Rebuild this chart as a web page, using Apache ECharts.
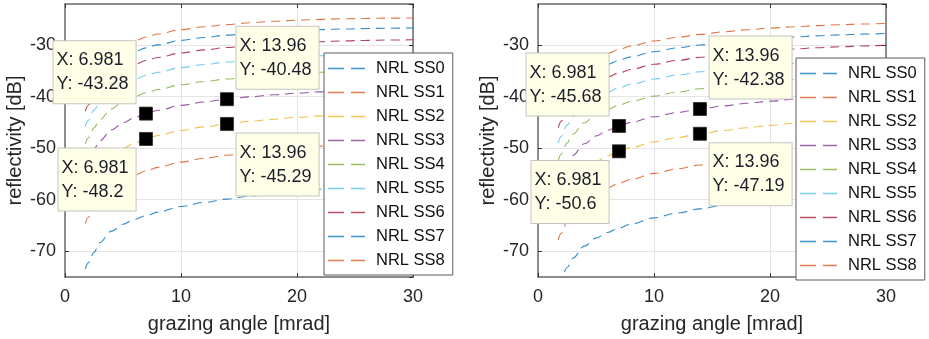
<!DOCTYPE html>
<html>
<head>
<meta charset="utf-8">
<script src="https://cdn.jsdelivr.net/npm/echarts@6/dist/echarts.min.js"></script>
<style>
  html, body { margin: 0; padding: 0; background: #fff; }
  #main { width: 929px; height: 339px; }
</style>
</head>
<body>
<div id="main"></div>
<script>
// grazing angle samples [mrad]
const angle = [1.745, 2, 2.5, 3, 4, 5, 6, 6.981, 8, 10, 12, 13.96, 16, 18, 20, 22, 24, 26, 28, 30];

const seriesNames = ['NRL SS0', 'NRL SS1', 'NRL SS2', 'NRL SS3', 'NRL SS4', 'NRL SS5', 'NRL SS6', 'NRL SS7', 'NRL SS8'];

// reflectivity [dB], left panel
const ss0Left = [-73.48, -72.26, -70.24, -68.3, -66.1, -64.75, -63.8, -63.1, -62.4, -61.32, -60.53, -59.88, -59.28, -58.78, -58.34, -57.95, -57.61, -57.3, -57.03, -56.78];
const ss1Left = [-64.65, -63.44, -61.43, -59.82, -57.69, -56.26, -55.21, -54.4, -53.72, -52.69, -51.95, -51.35, -50.8, -50.34, -49.95, -49.61, -49.32, -49.06, -48.83, -48.63];
const ss2Left = [-58.35, -57.14, -55.14, -53.53, -51.43, -50.02, -48.99, -48.2, -47.54, -46.55, -45.86, -45.29, -44.78, -44.37, -44.02, -43.72, -43.46, -43.25, -43.06, -42.9];
const ss3Left = [-53.33, -52.14, -50.14, -48.55, -46.45, -45.06, -44.05, -43.28, -42.64, -41.69, -41.02, -40.48, -40.02, -39.63, -39.32, -39.06, -38.84, -38.65, -38.5, -38.38];
const ss4Left = [-49.22, -48.03, -46.04, -44.45, -42.37, -40.99, -40.0, -39.24, -38.61, -37.69, -37.06, -36.55, -36.11, -35.75, -35.47, -35.24, -35.04, -34.89, -34.76, -34.67];
const ss5Left = [-45.79, -44.6, -42.61, -41.03, -38.97, -37.6, -36.62, -35.87, -35.26, -34.36, -33.75, -33.26, -32.85, -32.52, -32.26, -32.05, -31.88, -31.75, -31.65, -31.58];
const ss6Left = [-42.84, -41.65, -39.67, -38.1, -36.04, -34.69, -33.71, -32.98, -32.38, -31.5, -30.91, -30.45, -30.05, -29.75, -29.51, -29.32, -29.17, -29.06, -28.99, -28.94];
const ss7Left = [-40.34, -39.15, -37.18, -35.61, -33.56, -32.21, -31.25, -30.52, -29.93, -29.06, -28.49, -28.05, -27.67, -27.38, -27.15, -26.98, -26.85, -26.76, -26.7, -26.66];
const ss8Left = [-38.2, -37.02, -35.05, -33.48, -31.44, -30.1, -29.14, -28.42, -27.83, -26.98, -26.43, -26.0, -25.63, -25.35, -25.14, -24.99, -24.87, -24.79, -24.74, -24.72];

// reflectivity [dB], right panel
const ss0Right = [-76.63, -75.34, -73.19, -71.35, -69.0, -67.45, -66.35, -65.5, -64.73, -63.52, -62.58, -61.78, -61.05, -60.43, -59.88, -59.38, -58.94, -58.54, -58.18, -57.85];
const ss1Right = [-67.8, -66.52, -64.38, -62.67, -60.37, -58.82, -57.68, -56.8, -56.05, -54.89, -54.0, -53.25, -52.57, -51.99, -51.49, -51.04, -50.65, -50.3, -49.98, -49.7];
const ss2Right = [-61.5, -60.22, -58.09, -56.38, -54.11, -52.58, -51.46, -50.6, -49.87, -48.75, -47.91, -47.19, -46.55, -46.02, -45.56, -45.15, -44.79, -44.49, -44.21, -43.97];
const ss3Right = [-56.48, -55.22, -53.09, -51.4, -49.13, -47.62, -46.52, -45.68, -44.97, -43.89, -43.07, -42.38, -41.79, -41.28, -40.86, -40.49, -40.17, -39.89, -39.65, -39.45];
const ss4Right = [-52.37, -51.11, -48.99, -47.3, -45.05, -43.55, -42.47, -41.64, -40.94, -39.89, -39.11, -38.45, -37.88, -37.4, -37.01, -36.67, -36.37, -36.13, -35.91, -35.74];
const ss5Right = [-48.94, -47.68, -45.56, -43.88, -41.65, -40.16, -39.09, -38.27, -37.59, -36.56, -35.8, -35.16, -34.62, -34.17, -33.8, -33.48, -33.21, -32.99, -32.8, -32.65];
const ss6Right = [-45.99, -44.73, -42.62, -40.95, -38.72, -37.25, -36.18, -35.38, -34.71, -33.7, -32.96, -32.35, -31.82, -31.4, -31.05, -30.75, -30.5, -30.3, -30.14, -30.01];
const ss7Right = [-43.49, -42.23, -40.13, -38.46, -36.24, -34.77, -33.72, -32.92, -32.26, -31.26, -30.54, -29.95, -29.44, -29.03, -28.69, -28.41, -28.18, -28.0, -27.85, -27.73];
const ss8Right = [-41.35, -40.1, -38.0, -36.33, -34.12, -32.66, -31.61, -30.82, -30.16, -29.18, -28.48, -27.9, -27.4, -27.0, -26.68, -26.42, -26.2, -26.03, -25.89, -25.79];

// data tips (SS3 / SS2 at two grazing angles)
const tipX = [6.981, 6.981, 13.96, 13.96];
const tipLeftY = [-43.28, -48.2, -40.48, -45.29];
const tipRightY = [-45.68, -50.6, -42.38, -47.19];

const leftValues = [ss0Left, ss1Left, ss2Left, ss3Left, ss4Left, ss5Left, ss6Left, ss7Left, ss8Left];
const rightValues = [ss0Right, ss1Right, ss2Right, ss3Right, ss4Right, ss5Right, ss6Right, ss7Right, ss8Right];

const colors = ['#0072BD', '#D95319', '#EDB120', '#7E2F8E', '#77AC30', '#4DBEEE', '#A2142F', '#0072BD', '#D95319'];
const FONT = '"Liberation Sans", Arial, Helvetica, sans-serif';
const TEXT = '#262626';
const BOX = '#6b6b6b';
const TIP_FONT = 18;
const TIP_PAD = [7, 7, 7, 3];

// legend key: two short dashes inside a 37x14 box (corner dots pin the box size)
const DASH_ICON = 'path://M0,6.3H16V7.7H0Z M23,6.3H37V7.7H23Z M0,0H0.01V0.01H0Z M36.99,13.99H37V14H36.99Z';

const chart = echarts.init(document.getElementById('main'));

// text width helper for placing tip boxes to the left of their marker
const measureCtx = document.createElement('canvas').getContext('2d');
measureCtx.font = TIP_FONT + 'px ' + FONT;
function textWidth(s) { return measureCtx.measureText(s).width; }

function mainX(gi) {
  return {
    type: 'value', gridIndex: gi, position: 'bottom', min: 0, max: 30, interval: 10,
    name: 'grazing angle [mrad]', nameLocation: 'middle', nameGap: 37,
    nameTextStyle: { fontSize: 20, color: TEXT, fontFamily: FONT },
    axisLine: { show: true, onZero: false, lineStyle: { color: BOX, width: 1.5 } },
    axisTick: { show: true, inside: true, length: 4, lineStyle: { color: '#333', width: 1 } },
    axisLabel: { margin: 11, fontSize: 18, color: TEXT, fontFamily: FONT },
    splitLine: { show: true, lineStyle: { color: '#e4e4e4', width: 1 } }
  };
}
function topX(gi) {
  return {
    type: 'value', gridIndex: gi, position: 'top', min: 0, max: 30, interval: 10,
    axisLine: { show: true, onZero: false, lineStyle: { color: BOX, width: 1.5 } },
    axisTick: { show: true, inside: true, length: 4, lineStyle: { color: '#333', width: 1 } },
    axisLabel: { show: false }, splitLine: { show: false }
  };
}
function mainY(gi) {
  return {
    type: 'value', gridIndex: gi, position: 'left', min: -75, max: -22, splitNumber: 5,
    name: 'reflectivity [dB]', nameLocation: 'middle', nameGap: 40, nameRotate: 90,
    nameTextStyle: { fontSize: 20, color: TEXT, fontFamily: FONT },
    axisLine: { show: true, onZero: false, lineStyle: { color: BOX, width: 1.5 } },
    axisTick: { show: true, inside: true, length: 4, lineStyle: { color: '#333', width: 1 } },
    axisLabel: { margin: 9, fontSize: 18, color: TEXT, fontFamily: FONT, showMinLabel: false, showMaxLabel: false },
    splitLine: { show: true, lineStyle: { color: '#e4e4e4', width: 1 } }
  };
}
function rightY(gi) {
  return {
    type: 'value', gridIndex: gi, position: 'right', min: -75, max: -22, splitNumber: 5,
    axisLine: { show: true, onZero: false, lineStyle: { color: BOX, width: 1.5 } },
    axisTick: { show: true, inside: true, length: 4, lineStyle: { color: '#333', width: 1 } },
    axisLabel: { show: false }, splitLine: { show: false }
  };
}

// each panel gets its own series ids; the legend shows the plain name
function seriesKey(gi, k) { return (gi === 0 ? 'L|' : 'R|') + seriesNames[k]; }

function curves(values, gi) {
  return values.map((vals, k) => ({
    name: seriesKey(gi, k), type: 'line', xAxisIndex: gi * 2, yAxisIndex: gi * 2,
    data: angle.map((a, i) => [a, vals[i]]),
    symbol: 'none', showSymbol: false, smooth: 0.35, smoothMonotone: 'x',
    lineStyle: { width: 1.1, type: [9, 6], color: colors[k], opacity: 0.8 },
    itemStyle: { color: colors[k] },
    emphasis: { disabled: true }, silent: true, z: 2
  }));
}

function tipText(x, y) { return ['X: ' + x, 'Y: ' + y]; }

// tip box placement around its marker: 0 up-left, 1 down-left, 2 up-right, 3 down-right
function tipLabel(i, x, y) {
  const s = 6.5; // half marker size
  const left = i < 2, up = i % 2 === 0;
  const lines = tipText(x, y);
  const boxW = Math.max(textWidth(lines[0]), textWidth(lines[1])) + TIP_PAD[1] + TIP_PAD[3];
  return {
    position: [left ? s - 10 - boxW : s + 10, up ? s - 10 : s + 10],
    align: 'left',
    verticalAlign: up ? 'bottom' : 'top'
  };
}

function tips(ys, gi) {
  return {
    type: 'scatter', xAxisIndex: gi * 2, yAxisIndex: gi * 2,
    symbol: 'rect', symbolSize: 13,
    itemStyle: { color: '#000', opacity: 1, borderColor: '#2a2a20', borderWidth: 0.8 },
    data: tipX.map((x, i) => ({ value: [x, ys[i]], label: tipLabel(i, x, ys[i]) })),
    label: {
      show: true,
      formatter: p => tipText(p.value[0], p.value[1]).join('\n'),
      fontSize: TIP_FONT, lineHeight: 24, color: '#1d1d2b', fontFamily: FONT,
      backgroundColor: '#ffffe8', borderColor: '#c4c4c0', borderWidth: 1,
      padding: TIP_PAD
    },
    emphasis: { disabled: true }, silent: true, z: 5
  };
}

function legend(gi, left, top) {
  return {
    data: seriesNames.map((n, k) => ({ name: seriesKey(gi, k), icon: DASH_ICON, itemStyle: { color: colors[k], opacity: 0.75 } })),
    formatter: name => name.split('|')[1],
    orient: 'vertical', left: left, top: top,
    selectedMode: false,
    backgroundColor: '#fff', borderColor: '#5a5a5a', borderWidth: 1,
    padding: [7, 8, 6, 4],
    itemWidth: 37, itemHeight: 14, itemGap: 7,
    itemStyle: { borderWidth: 0 },
    lineStyle: { width: 0, opacity: 0 },
    textStyle: { fontSize: 16.5, lineHeight: 16, color: '#111', fontFamily: FONT, padding: [0, 0, 0, 6] },
    z: 6
  };
}

chart.setOption({
  animation: false,
  backgroundColor: '#fff',
  grid: [
    { left: 65, top: 4, width: 348, height: 273 },
    { left: 538, top: 4, width: 348, height: 273 }
  ],
  xAxis: [mainX(0), topX(0), mainX(1), topX(1)],
  yAxis: [mainY(0), rightY(0), mainY(1), rightY(1)],
  legend: [legend(0, 324, 53), legend(1, 796, 58)],
  series: [].concat(curves(leftValues, 0), curves(rightValues, 1), [tips(tipLeftY, 0), tips(tipRightY, 1)])
});
</script>
</body>
</html>
